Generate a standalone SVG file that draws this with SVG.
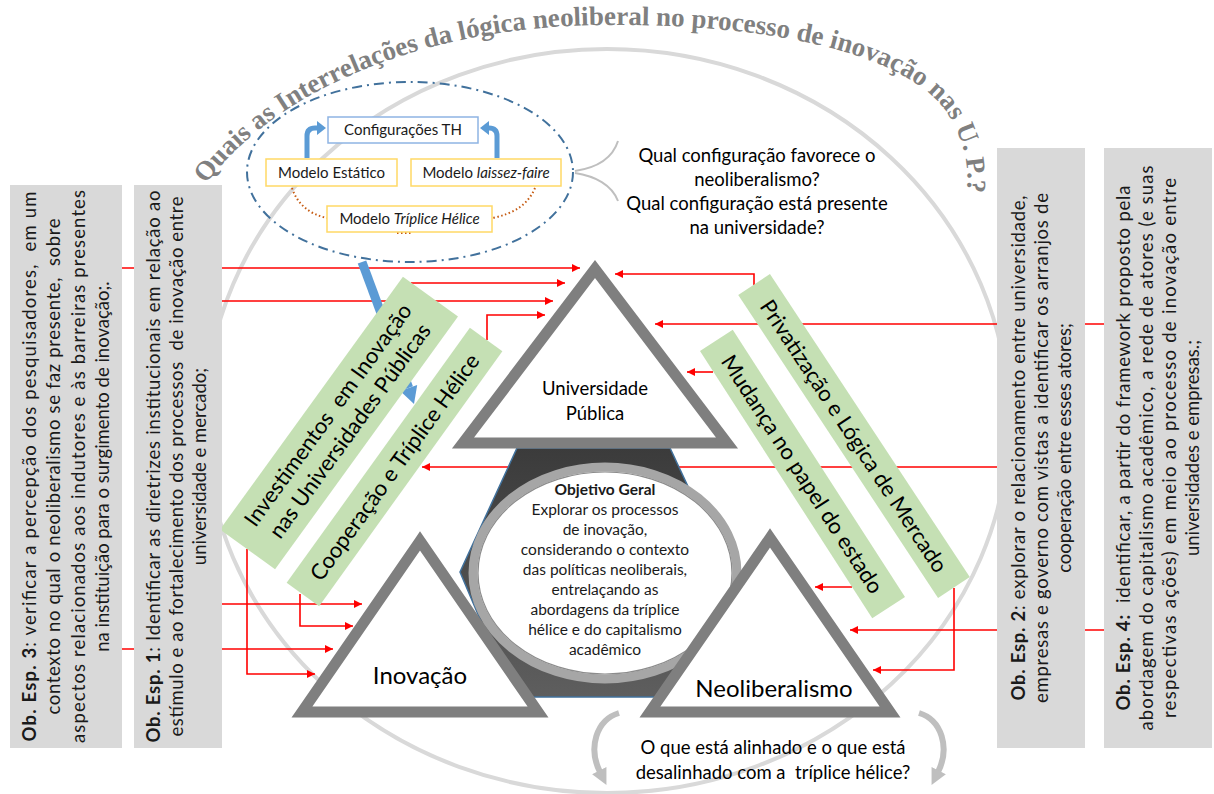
<svg xmlns="http://www.w3.org/2000/svg" width="1214" height="794" viewBox="0 0 1214 794">
<defs>
<marker id="ar" viewBox="0 0 10 10" refX="10" refY="5" markerWidth="10" markerHeight="8" markerUnits="userSpaceOnUse" orient="auto"><path d="M0,0 L10,5 L0,10 z" fill="#ff0000"/></marker>
<marker id="gar" viewBox="0 0 10 10" refX="1" refY="5" markerWidth="16" markerHeight="16" markerUnits="userSpaceOnUse" orient="auto"><path d="M0,0 L10,5 L0,10 z" fill="#bfbfbf"/></marker>
<path id="titlePath" d="M 206,184 C 272,95 415,27 600,25 C 760,23 900,50 945,110 C 970,145 972,185 962,215"/>
<linearGradient id="hexg" x1="0" y1="0" x2="0" y2="1"><stop offset="0" stop-color="#3b3b3b"/><stop offset="1" stop-color="#5e5e5e"/></linearGradient>
</defs>
<style>
.box{fill:#d9d9d9}
.bt{font-family:Lato,'Liberation Sans',sans-serif;font-size:18.5px;fill:#1a1a1a;white-space:pre}
.b{font-weight:bold}
.con{fill:none;stroke:#ff0000;stroke-width:1.6}
.arr{marker-end:url(#ar)}
.tri{fill:#fff;stroke:#7f7f7f;stroke-width:11;stroke-linejoin:miter}
.ban{fill:#c5e0b4}
.bant{font-family:Lato,'Liberation Sans',sans-serif;font-size:22px;fill:#000;text-anchor:middle;white-space:pre}
.sm{font-family:Lato,'Liberation Sans',sans-serif;font-size:15px;fill:#1a1a1a;text-anchor:middle}
.q{font-family:Lato,'Liberation Sans',sans-serif;font-size:18.5px;fill:#000;text-anchor:middle;white-space:pre}
.ct{font-family:Lato,'Liberation Sans',sans-serif;font-size:15.5px;fill:#1a1a1a;text-anchor:middle}
.tl{font-family:Lato,'Liberation Sans',sans-serif;fill:#000;text-anchor:middle}
</style>
<rect width="1214" height="794" fill="#fff"/>

<ellipse id="outer-ring" cx="607" cy="421" rx="402" ry="372" fill="none" stroke="#d9d9d9" stroke-width="4"/>

<text id="title" font-family="'Liberation Serif',serif" font-weight="bold" font-size="27" fill="#808080"><textPath href="#titlePath">Quais as Interrelações da lógica neoliberal no processo de inovação nas U. P.?</textPath></text>

<g id="connectors">
<path class="con arr" d="M122,268 H580"/>
<path class="con arr" d="M411,283 H565"/>
<path class="con arr" d="M222,301 H553"/>
<path class="con arr" d="M487,340 V315 H545"/>
<path class="con arr" d="M997,467 H422"/>
<path class="con arr" d="M222,604 H362"/>
<path class="con arr" d="M300,594 V626 H353"/>
<path class="con arr" d="M122,649 H333"/>
<path class="con arr" d="M247,549 V674 H315"/>
<path class="con arr" d="M1104,324 H655"/>
<path class="con arr" d="M754,285 V274 H615"/>
<path class="con arr" d="M713,372 H687"/>
<path class="con arr" d="M852,587 H815"/>
<path class="con arr" d="M1104,630 H850"/>
<path class="con arr" d="M954,588 V670 H873"/>
</g>

<g id="blue-arrow">
<path d="M362,262 L408.7,387.9" stroke="#5b9bd5" stroke-width="9" fill="none"/>
<polygon points="414,404 417.2,384.9 400.2,390.9" fill="#5b9bd5"/>
</g>

<g id="center-hex">
<polygon points="517,448 670,448 728,572 673,697 513,697 460,572" fill="url(#hexg)" stroke="#41719c" stroke-width="1.5"/>
</g>

<g id="node-universidade">
<polygon class="tri" points="595,269 463,443 727,443"/>
<text class="tl" x="595" y="395" font-size="18.5">Universidade</text>
<text class="tl" x="595" y="420" font-size="18.5">Pública</text>
</g>

<g id="node-inovacao">
<polygon class="tri" points="420,541 302,712 538,712"/>
<text class="tl" x="420" y="684" font-size="24">Inovação</text>
</g>

<g id="node-objetivo">
<ellipse cx="605" cy="573" rx="132" ry="106" fill="#fff" stroke="#a6a6a6" stroke-width="9"/>
<ellipse cx="605" cy="573" rx="127" ry="101" fill="none" stroke="#8c8c8c" stroke-width="1.2"/>
<text class="ct" x="605" y="495" font-weight="bold">Objetivo Geral</text>
<text class="ct" x="605" y="515">Explorar os processos</text>
<text class="ct" x="605" y="535">de inovação,</text>
<text class="ct" x="605" y="555">considerando o contexto</text>
<text class="ct" x="605" y="575">das políticas neoliberais,</text>
<text class="ct" x="605" y="595">entrelaçando as</text>
<text class="ct" x="605" y="615">abordagens da tríplice</text>
<text class="ct" x="605" y="635">hélice e do capitalismo</text>
<text class="ct" x="605" y="655">acadêmico</text>
</g>

<g id="node-neoliberalismo">
<polygon class="tri" points="770,538 650,712 890,712"/>
<text class="tl" x="774" y="697" font-size="24">Neoliberalismo</text>
</g>

<g id="banner-investimentos" transform="translate(339,423) rotate(-54.1)">
<rect class="ban" x="-156" y="-34" width="312" height="68"/>
<text class="bant" x="0" y="-6">Investimentos  em Inovação</text>
<text class="bant" x="0" y="21">nas Universidades Públicas</text>
</g>
<g id="banner-cooperacao" transform="translate(394.5,467) rotate(-54.3)">
<rect class="ban" x="-157" y="-20" width="314" height="40"/>
<text class="bant" x="0" y="8">Cooperação e Tríplice Hélice</text>
</g>
<g id="banner-privatizacao" transform="translate(854,436) rotate(56.6)">
<rect class="ban" x="-181.5" y="-19" width="363" height="38"/>
<text class="bant" x="0" y="8">Privatização e Lógica de Mercado</text>
</g>
<g id="banner-mudanca" transform="translate(802.5,474) rotate(57.2)">
<rect class="ban" x="-159" y="-19.5" width="318" height="39"/>
<text class="bant" x="0" y="8">Mudança no papel do estado</text>
</g>

<g id="box-ob3">
<rect class="box" x="10" y="185" width="112" height="563"/>
<text class="bt" transform="translate(36,466.5) rotate(-90)" text-anchor="middle" textLength="550"><tspan class="b">Ob. Esp. 3</tspan>: verificar a percepção dos pesquisadores,  em um</text>
<text class="bt" transform="translate(60,466.5) rotate(-90)" text-anchor="middle" textLength="496">contexto no qual o neoliberalismo se faz presente,  sobre</text>
<text class="bt" transform="translate(85,466.5) rotate(-90)" text-anchor="middle" textLength="553">aspectos relacionados aos indutores e às barreiras presentes</text>
<text class="bt" transform="translate(109,466.5) rotate(-90)" text-anchor="middle">na instituição para o surgimento de inovação;.</text>
</g>

<g id="box-ob1">
<rect class="box" x="134" y="185" width="88" height="563"/>
<text class="bt" transform="translate(160,466.5) rotate(-90)" text-anchor="middle" textLength="552"><tspan class="b">Ob. Esp. 1</tspan>: Identificar as diretrizes institucionais em relação ao</text>
<text class="bt" transform="translate(183,466.5) rotate(-90)" text-anchor="middle" textLength="540">estímulo e ao fortalecimento dos processos  de inovação entre</text>
<text class="bt" transform="translate(206,466.5) rotate(-90)" text-anchor="middle">universidade e mercado;</text>
</g>

<g id="box-ob2">
<rect class="box" x="997" y="148" width="88" height="600"/>
<text class="bt" transform="translate(1025,448) rotate(-90)" text-anchor="middle" textLength="505"><tspan class="b">Ob. Esp. 2</tspan>: explorar o relacionamento entre universidade,</text>
<text class="bt" transform="translate(1048,448) rotate(-90)" text-anchor="middle" textLength="510">empresas e governo com vistas a identificar os arranjos de</text>
<text class="bt" transform="translate(1071,448) rotate(-90)" text-anchor="middle">cooperação entre esses atores;</text>
</g>

<g id="box-ob4">
<rect class="box" x="1104" y="148" width="108" height="600"/>
<text class="bt" transform="translate(1130,448) rotate(-90)" text-anchor="middle" textLength="525"><tspan class="b">Ob. Esp. 4:</tspan>  identificar, a partir do framework proposto pela</text>
<text class="bt" transform="translate(1153,448) rotate(-90)" text-anchor="middle" textLength="565">abordagem do capitalismo acadêmico, a rede de atores (e suas</text>
<text class="bt" transform="translate(1176,448) rotate(-90)" text-anchor="middle" textLength="540">respectivas ações) em meio ao processo de inovação entre</text>
<text class="bt" transform="translate(1199,448) rotate(-90)" text-anchor="middle">universidades e empresas.;</text>
</g>

<g id="th-ellipse">
<ellipse cx="410" cy="172" rx="163" ry="90" fill="none" stroke="#41719c" stroke-width="2" stroke-dasharray="10 5 2 5"/>
<path d="M292,188 Q300,212 327,218" fill="none" stroke="#c55a11" stroke-width="2" stroke-dasharray="1.5 2.5"/>
<path d="M535,188 Q525,212 492,218" fill="none" stroke="#c55a11" stroke-width="2" stroke-dasharray="1.5 2.5"/>
<path d="M397,233 H411" fill="none" stroke="#c55a11" stroke-width="2" stroke-dasharray="1.5 2.5"/>
<path d="M307,158 V136 Q307,128 315,128 H318" fill="none" stroke="#5b9bd5" stroke-width="5"/>
<polygon points="326,128 317,121 317,135" fill="#5b9bd5"/>
<path d="M497,158 V136 Q497,128 489,128 H488" fill="none" stroke="#5b9bd5" stroke-width="5"/>
<polygon points="480,128 489,121 489,135" fill="#5b9bd5"/>
</g>
<g id="node-configuracoes">
<rect x="328" y="117" width="150" height="26" fill="#fff" stroke="#8eb4e3" stroke-width="1.5"/>
<text class="sm" x="403" y="135">Configurações TH</text>
</g>
<g id="node-estatico">
<rect x="266" y="159" width="131" height="27" fill="#fff" stroke="#ffd966" stroke-width="1.5"/>
<text class="sm" x="331.5" y="178">Modelo Estático</text>
</g>
<g id="node-laissez">
<rect x="411" y="159" width="150" height="27" fill="#fff" stroke="#ffd966" stroke-width="1.5"/>
<text class="sm" x="486" y="178">Modelo <tspan font-style="italic">laissez-faire</tspan></text>
</g>
<g id="node-triplice">
<rect x="327" y="206" width="165" height="26" fill="#fff" stroke="#ffd966" stroke-width="1.5"/>
<text class="sm" x="409.5" y="224">Modelo <tspan font-style="italic">Tríplice Hélice</tspan></text>
</g>

<g id="question-top">
<path d="M618,141 C612,160 595,168 575,171" fill="none" stroke="#bfbfbf" stroke-width="2"/>
<path d="M575,173 C595,176 612,185 618,201" fill="none" stroke="#bfbfbf" stroke-width="2"/>
<text class="q" x="757" y="162">Qual configuração favorece o</text>
<text class="q" x="757" y="186">neoliberalismo?</text>
<text class="q" x="757" y="210">Qual configuração está presente</text>
<text class="q" x="757" y="234">na universidade?</text>
</g>

<g id="question-bottom">
<path d="M619,713 C596,720 588,748 600,772" fill="none" stroke="#bfbfbf" stroke-width="6" marker-end="url(#gar)"/>
<path d="M919,713 C942,720 950,748 938,772" fill="none" stroke="#bfbfbf" stroke-width="6" marker-end="url(#gar)"/>
<text class="q" x="773" y="754">O que está alinhado e o que está</text>
<text class="q" x="773" y="779">desalinhado com a  tríplice hélice?</text>
</g>
</svg>
